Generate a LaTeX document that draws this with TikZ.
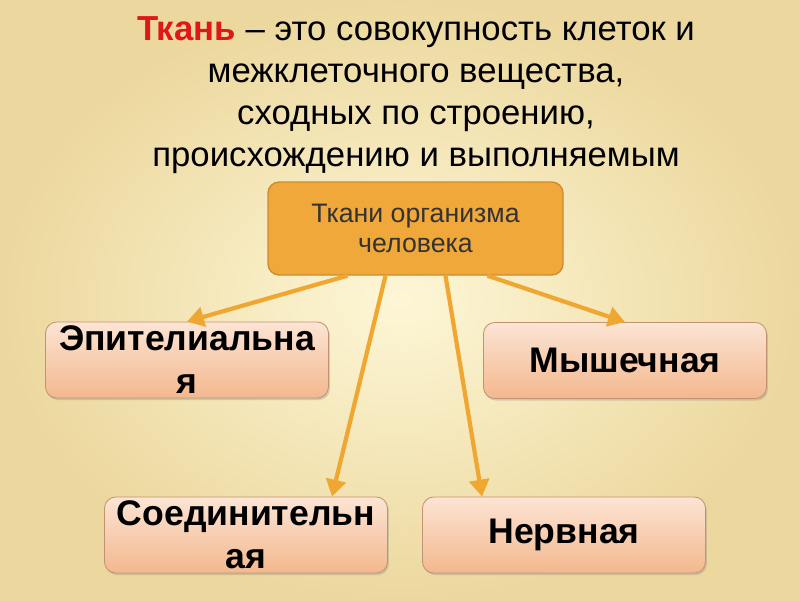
\documentclass[tikz,border=0pt]{standalone}
\usepackage{fontspec}
\setmainfont{Liberation Sans}
\usepackage{xcolor}
\usepackage{tikz}
\usetikzlibrary{arrows.meta,positioning,shadows}

\definecolor{bgin}{RGB}{253,246,214}
\definecolor{bgout}{RGB}{236,216,158}
\definecolor{tred}{RGB}{222,24,24}
\definecolor{arrowor}{RGB}{239,167,50}
\definecolor{boxor}{RGB}{240,168,58}
\definecolor{boxline}{RGB}{205,140,50}
\definecolor{peachtop}{RGB}{252,228,212}
\definecolor{peachbot}{RGB}{243,184,142}

\begin{document}
\begin{tikzpicture}[
  x=0.025cm, y=-0.025cm,
  topbox/.style={draw=boxline, line width=1pt, fill=boxor, rounded corners=8pt,
                 align=center, text=black!80,
                 font=\fontsize{19}{21.3}\selectfont,
                 minimum width=295*0.025cm, minimum height=93*0.025cm},
  kind/.style={draw=peachbot!80!black, line width=0.6pt, rounded corners=8pt,
               top color=peachtop, bottom color=peachbot,
               drop shadow={shadow xshift=1pt, shadow yshift=-1.5pt, opacity=0.3},
               align=center, font=\fontsize{25.3}{30.6}\bfseries\selectfont,
               minimum width=283*0.025cm, minimum height=76*0.025cm, inner sep=2pt},
  link/.style={draw=arrowor, line width=3pt,
               -{Triangle[length=12pt, width=14pt]}}]

% background
\shade[inner color=bgin, outer color=bgout] (0,0) rectangle (800,600);
\useasboundingbox (0,0) rectangle (800,600);

% definition
\node[align=center, inner sep=0pt, font=\fontsize{24.7}{29.9}\selectfont] (def) at (416,95)
  {{\color{tred}\bfseries Ткань} -- это совокупность клеток и\\
   межклеточного вещества,\\
   сходных по строению,\\
   происхождению и выполняемым};

\node[topbox] (top) at (415.5,228.5) {Ткани организма\\человека};

\node[kind] (epi) at (187,360) {Эпителиальна\\я};
\node[kind] (mus) at (625,360.5) {Мышечная};
\node[kind] (con) at (246,535) {Соединительн\\ая};
\node[kind] (ner) at (564,535) {Нервная};

\draw[link] ([xshift=-68*0.025cm]top.south) -- (epi.north);
\draw[link] ([xshift=-30*0.025cm]top.south) -- ([xshift=86*0.025cm]con.north);
\draw[link] ([xshift=30*0.025cm]top.south) -- ([xshift=-82*0.025cm]ner.north);
\draw[link] ([xshift=72*0.025cm]top.south) -- (mus.north);
\end{tikzpicture}
\end{document}
